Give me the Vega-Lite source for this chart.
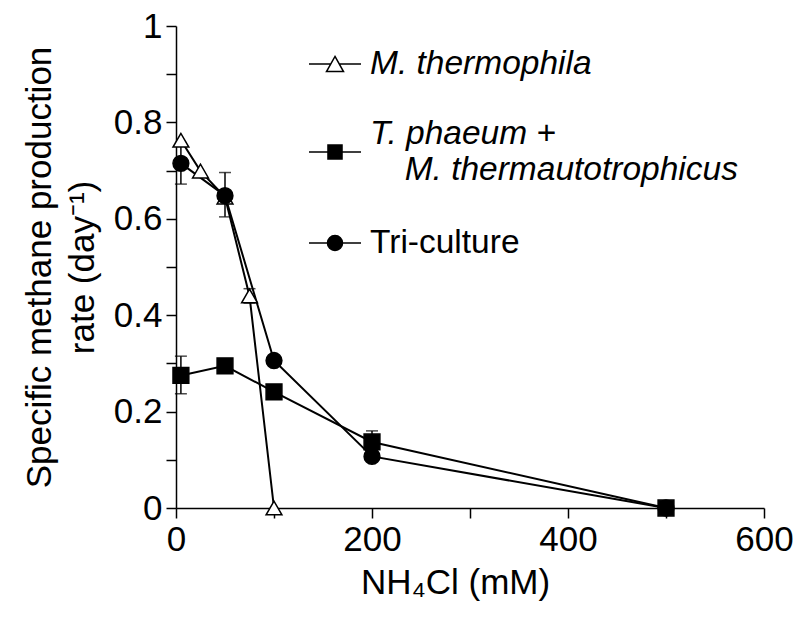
{
  "$schema": "https://vega.github.io/schema/vega-lite/v6.json",
  "width": 588,
  "height": 482,
  "autosize": {"type": "none"},
  "padding": {"left": 176, "top": 26, "right": 30, "bottom": 115},
  "background": "white",
  "config": {
    "view": {"stroke": null},
    "axis": {
      "domainColor": "black", "domainWidth": 1.5,
      "tickColor": "black", "tickWidth": 1.5, "tickSize": 10,
      "labelColor": "black", "labelFont": "Liberation Sans", "labelFontSize": 35,
      "titleColor": "black", "titleFont": "Liberation Sans", "titleFontSize": 35, "titleFontWeight": "normal",
      "grid": false, "labelPadding": 4, "labelOverlap": false, "labelFlush": false
    },
    "legend": {
      "orient": "none", "legendX": 132, "padding": 0, "title": null,
      "symbolSize": 2704, "symbolStrokeWidth": 1.5, "symbolOpacity": 1,
      "labelFont": "Liberation Sans", "labelFontSize": 33.5, "labelColor": "black", "labelLimit": 0, "labelOffset": 8
    }
  },
  "data": {
    "values": [
      {"series": "M. thermophila", "x": 5, "y": 0.763, "lo": null, "hi": null},
      {"series": "M. thermophila", "x": 25, "y": 0.699, "lo": null, "hi": null},
      {"series": "M. thermophila", "x": 50, "y": 0.645, "lo": null, "hi": null},
      {"series": "M. thermophila", "x": 75, "y": 0.44, "lo": 0.425, "hi": 0.455},
      {"series": "M. thermophila", "x": 100, "y": 0, "lo": null, "hi": null},
      {"series": "T. phaeum + M. thermautotrophicus", "x": 5, "y": 0.275, "lo": 0.237, "hi": 0.315},
      {"series": "T. phaeum + M. thermautotrophicus", "x": 50, "y": 0.295, "lo": null, "hi": null},
      {"series": "T. phaeum + M. thermautotrophicus", "x": 100, "y": 0.241, "lo": null, "hi": null},
      {"series": "T. phaeum + M. thermautotrophicus", "x": 200, "y": 0.137, "lo": 0.114, "hi": 0.16},
      {"series": "T. phaeum + M. thermautotrophicus", "x": 500, "y": 0, "lo": null, "hi": null},
      {"series": "Tri-culture", "x": 5, "y": 0.715, "lo": 0.672, "hi": 0.758},
      {"series": "Tri-culture", "x": 50, "y": 0.648, "lo": 0.604, "hi": 0.696},
      {"series": "Tri-culture", "x": 100, "y": 0.306, "lo": null, "hi": null},
      {"series": "Tri-culture", "x": 200, "y": 0.107, "lo": null, "hi": null},
      {"series": "Tri-culture", "x": 500, "y": 0, "lo": null, "hi": null}
    ]
  },
  "encoding": {
    "x": {
      "field": "x", "type": "quantitative",
      "scale": {"domain": [0, 600], "nice": false},
      "axis": {
        "title": "NH₄Cl (mM)", "titlePadding": 8, "titleX": 279,
        "values": [0, 100, 200, 300, 400, 500, 600],
        "labelExpr": "datum.value % 200 == 0 ? datum.label : ''"
      }
    },
    "y": {
      "field": "y", "type": "quantitative",
      "scale": {"domain": [0, 1], "nice": false},
      "axis": {
        "title": ["Specific methane production", "rate (day⁻¹)"], "titlePadding": 13, "titleLineHeight": 43,
        "values": [0, 0.1, 0.2, 0.3, 0.4, 0.5, 0.6, 0.7, 0.8, 0.9, 1],
        "format": ".1~f",
        "labelExpr": "round(datum.value * 10) % 2 == 0 ? datum.label : ''"
      }
    }
  },
  "resolve": {"scale": {"shape": "independent"}, "legend": {"shape": "independent"}},
  "layer": [
    {
      "mark": {"type": "line", "color": "black", "strokeWidth": 2},
      "encoding": {"detail": {"field": "series", "type": "nominal"}}
    },
    {
      "transform": [{"filter": "datum.lo != null"}],
      "mark": {
        "type": "errorbar",
        "ticks": {"size": 12, "thickness": 1.5, "color": "black"},
        "rule": {"strokeWidth": 1.5, "color": "black"}
      },
      "encoding": {
        "y": {
          "field": "lo", "type": "quantitative",
          "scale": {"domain": [0, 1], "nice": false},
          "axis": {
            "title": ["Specific methane production", "rate (day⁻¹)"], "titlePadding": 13, "titleLineHeight": 43,
            "values": [0, 0.1, 0.2, 0.3, 0.4, 0.5, 0.6, 0.7, 0.8, 0.9, 1],
            "format": ".1~f",
            "labelExpr": "round(datum.value * 10) % 2 == 0 ? datum.label : ''"
          }
        },
        "y2": {"field": "hi"}
      }
    },
    {
      "mark": {"type": "point", "filled": true, "stroke": "black", "strokeWidth": 1.5, "opacity": 1, "size": 250},
      "encoding": {
        "shape": {
          "field": "series", "type": "nominal",
          "scale": {"domain": ["M. thermophila", "T. phaeum + M. thermautotrophicus", "Tri-culture"], "range": ["triangle-up", "square", "circle"]},
          "legend": null
        },
        "fill": {
          "field": "series", "type": "nominal",
          "scale": {"domain": ["M. thermophila", "T. phaeum + M. thermautotrophicus", "Tri-culture"], "range": ["white", "black", "black"]},
          "legend": null
        }
      }
    },
    {
      "transform": [{"filter": "false"}],
      "mark": {"type": "point", "filled": true, "fill": "white", "stroke": "black", "strokeWidth": 1.5},
      "encoding": {
        "shape": {
          "field": "series", "type": "nominal",
          "scale": {"domain": ["M. thermophila"], "range": ["M-1,0H-0.163M0.163,0H1M0,-0.29L0.327,0.29L-0.327,0.29Z"]},
          "legend": {"legendY": 11, "labelFontStyle": "italic"}
        }
      }
    },
    {
      "transform": [{"filter": "false"}],
      "mark": {"type": "point", "filled": true, "fill": "black", "stroke": "black", "strokeWidth": 1.5},
      "encoding": {
        "shape": {
          "field": "series", "type": "nominal",
          "scale": {"domain": ["T. phaeum + M. thermautotrophicus"], "range": ["M-1,0.69H1M-0.27,0.42H0.27V0.96H-0.27Z"]},
          "legend": {
            "legendY": 81, "labelFontStyle": "italic",
            "labelExpr": "['T. phaeum +', '\u200b\u00a0\u00a0\u00a0\u2009M. thermautotrophicus']"
          }
        }
      }
    },
    {
      "transform": [{"filter": "false"}],
      "mark": {"type": "point", "filled": true, "fill": "black", "stroke": "black", "strokeWidth": 1.5},
      "encoding": {
        "shape": {
          "field": "series", "type": "nominal",
          "scale": {"domain": ["Tri-culture"], "range": ["M-1,0H1M-0.29,0A0.29,0.29,0,1,1,0.29,0A0.29,0.29,0,1,1,-0.29,0Z"]},
          "legend": {"legendY": 190, "labelFontStyle": "normal"}
        }
      }
    }
  ]
}
